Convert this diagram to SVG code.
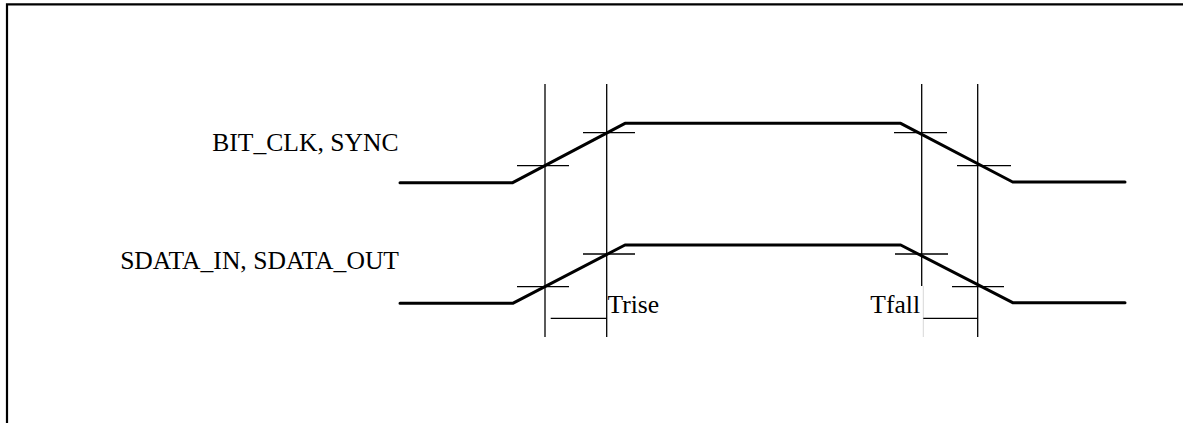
<svg xmlns="http://www.w3.org/2000/svg" width="1183" height="423" viewBox="0 0 1183 423">
<style>
.frame{fill:none;stroke:#000;stroke-width:2.2}
.wave{fill:none;stroke:#000;stroke-width:3;stroke-linecap:round;stroke-linejoin:round}
.thin{fill:none;stroke:#000;stroke-width:1.3}
.faint{fill:none;stroke:#d8d8d8;stroke-width:1}
.lbl{font-family:"Liberation Serif","Times New Roman",serif;font-size:25.6px;fill:#000}
</style>
<rect width="1183" height="423" fill="#fff"/>
<path class="frame" d="M7,423 V4.3 H1183"/>
<g id="label-bitclk"><text class="lbl" x="398.5" y="151" text-anchor="end">BIT_CLK, SYNC</text></g>
<g id="label-sdata"><text class="lbl" x="399" y="268.5" text-anchor="end">SDATA_IN, SDATA_OUT</text></g>
<g id="wave-bitclk"><path class="wave" d="M400,182.7 H512.7 L625,123.3 H900.7 L1012.7,182 H1125"/></g>
<g id="wave-sdata"><path class="wave" d="M400,303.3 H512.7 L625,245 H900.7 L1012.7,302.7 H1125"/></g>
<g id="connectors">
<line class="thin" x1="545" y1="84" x2="545" y2="337"/>
<line class="thin" x1="606.7" y1="84" x2="606.7" y2="337"/>
<line class="thin" x1="921.7" y1="84" x2="921.7" y2="286"/>
<line class="faint" x1="923.3" y1="286" x2="923.3" y2="337"/>
<line class="thin" x1="977.7" y1="84" x2="977.7" y2="337"/>
<line class="thin" x1="517" y1="165.7" x2="569" y2="165.7"/>
<line class="thin" x1="583" y1="132.7" x2="635" y2="132.7"/>
<line class="thin" x1="894" y1="132.7" x2="947" y2="132.7"/>
<line class="thin" x1="957" y1="165.7" x2="1011" y2="165.7"/>
<line class="thin" x1="517" y1="286.7" x2="569" y2="286.7"/>
<line class="thin" x1="583" y1="254" x2="635" y2="254"/>
<line class="thin" x1="895" y1="254" x2="948" y2="254"/>
<line class="thin" x1="952" y1="286.7" x2="1004" y2="286.7"/>
<line class="thin" x1="550.7" y1="318.3" x2="606.7" y2="318.3"/>
<line class="thin" x1="923.3" y1="318.3" x2="977.7" y2="318.3"/>
</g>
<g id="label-trise"><text class="lbl" x="607.5" y="313">Trise</text></g>
<g id="label-tfall"><text class="lbl" x="920" y="312.7" text-anchor="end">Tfall</text></g>
</svg>
